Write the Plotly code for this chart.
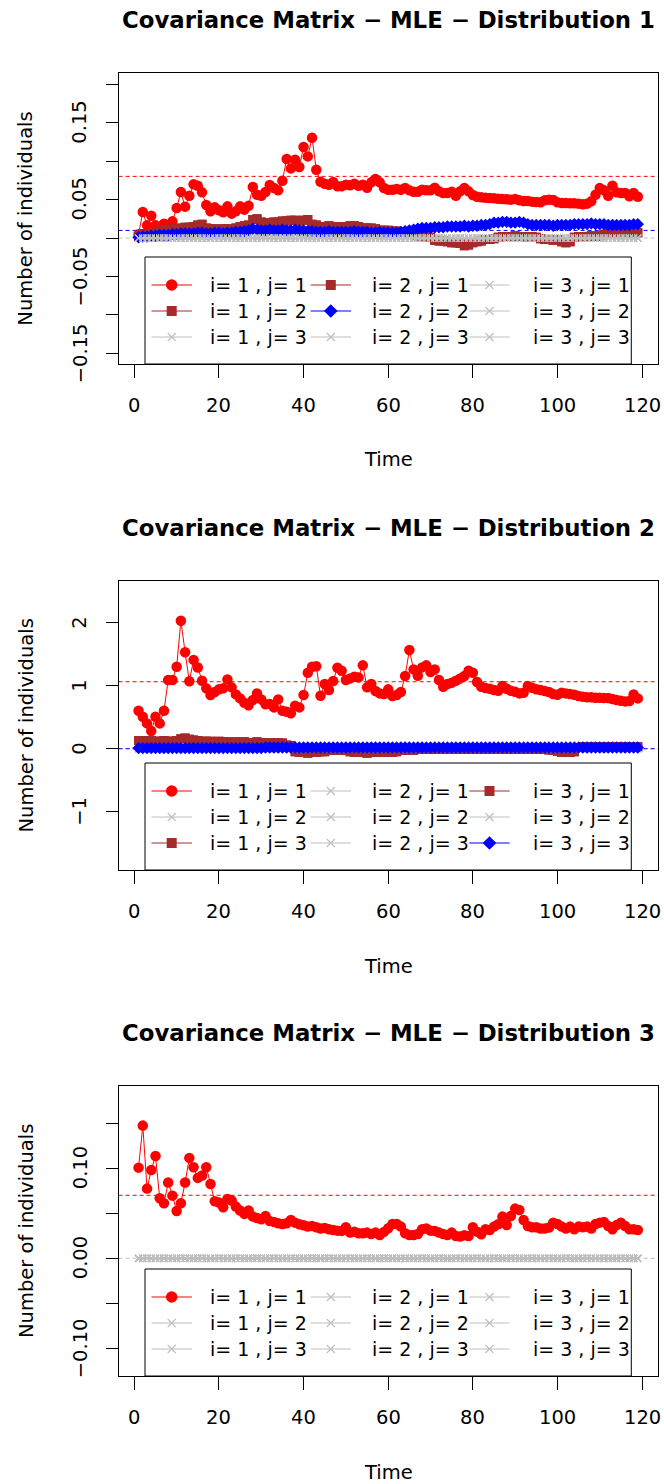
import plotly.graph_objects as go

# ---------------------------------------------------------------- data
time = list(range(1, 120))

# Distribution 1 : covariance estimates over time
d1_s11 = [0.005, 0.0338, 0.0165, 0.029, 0.0165, 0.0117, 0.0186, 0.0165, 0.0217, 0.039,
          0.0598, 0.0408, 0.0551, 0.0698, 0.068, 0.0594, 0.0429, 0.0347, 0.0399, 0.036,
          0.0334, 0.0412, 0.0317, 0.0347, 0.0412, 0.0369, 0.042, 0.0663, 0.0564, 0.0551,
          0.0598, 0.069, 0.065, 0.062, 0.0746, 0.1028, 0.0906, 0.1019, 0.0924, 0.1184,
          0.1062, 0.1305, 0.0889, 0.0733, 0.0707, 0.0694, 0.0729, 0.0672, 0.0672, 0.0694,
          0.0685, 0.0707, 0.068, 0.0694, 0.0655, 0.0724, 0.0768, 0.0724, 0.065, 0.0629,
          0.0629, 0.0637, 0.0629, 0.065, 0.062, 0.0603, 0.0603, 0.0629, 0.062, 0.062,
          0.0655, 0.0607, 0.0585, 0.0585, 0.0603, 0.0551, 0.0607, 0.065, 0.0607, 0.0559,
          0.0538, 0.0529, 0.0525, 0.052, 0.0516, 0.0512, 0.0507, 0.0503, 0.0499, 0.0507,
          0.049, 0.0481, 0.0481, 0.0473, 0.0468, 0.0464, 0.049, 0.0499, 0.0494, 0.0464,
          0.0455, 0.0455, 0.0451, 0.0451, 0.0447, 0.0438, 0.0447, 0.0477, 0.0564, 0.065,
          0.062, 0.0551, 0.068, 0.0594, 0.0585, 0.0585, 0.0542, 0.0585, 0.0538]
d1_s12 = [0.002, 0.006, 0.005, 0.006, 0.007, 0.010, 0.011, 0.011, 0.012, 0.011,
          0.013, 0.014, 0.014, 0.015, 0.017, 0.018, 0.013, 0.012, 0.012, 0.011,
          0.012, 0.012, 0.011, 0.013, 0.015, 0.016, 0.017, 0.024, 0.025, 0.021,
          0.020, 0.020, 0.021, 0.021, 0.022, 0.022, 0.023, 0.023, 0.022, 0.023,
          0.024, 0.018, 0.017, 0.015, 0.015, 0.016, 0.015, 0.015, 0.014, 0.015,
          0.016, 0.016, 0.015, 0.013, 0.013, 0.013, 0.012, 0.010, 0.010, 0.010,
          0.009, 0.009, 0.007, 0.007, 0.006, 0.006, 0.003, 0.002, 0.001, 0.001,
          -0.003, -0.004, -0.004, -0.005, -0.006, -0.006, -0.007, -0.010, -0.009, -0.006,
          -0.005, -0.004, -0.002, -0.002, -0.001, 0.001, 0.002, 0.002, 0.002, 0.003,
          0.002, 0.002, 0.001, 0.002, 0.001, -0.001, -0.002, -0.002, -0.003, -0.002,
          -0.005, -0.006, -0.005, 0.001, 0.002, 0.002, 0.002, 0.003, 0.002, 0.003,
          0.005, 0.006, 0.006, 0.006, 0.006, 0.007, 0.006, 0.006, 0.007]
d1_s22 = [0.001, 0.002, 0.002, 0.003, 0.003, 0.004, 0.004, 0.004, 0.005, 0.005,
          0.006, 0.006, 0.006, 0.006, 0.007, 0.007, 0.006, 0.006, 0.007, 0.007,
          0.006, 0.007, 0.007, 0.008, 0.008, 0.009, 0.010, 0.012, 0.011, 0.010,
          0.010, 0.011, 0.010, 0.010, 0.011, 0.010, 0.010, 0.011, 0.010, 0.010,
          0.009, 0.009, 0.008, 0.008, 0.008, 0.009, 0.008, 0.008, 0.008, 0.008,
          0.008, 0.009, 0.008, 0.008, 0.008, 0.007, 0.007, 0.008, 0.007, 0.007,
          0.007, 0.007, 0.008, 0.009, 0.010, 0.011, 0.012, 0.013, 0.013, 0.013,
          0.014, 0.014, 0.014, 0.015, 0.015, 0.015, 0.015, 0.016, 0.015, 0.016,
          0.016, 0.017, 0.017, 0.018, 0.020, 0.020, 0.021, 0.021, 0.020, 0.020,
          0.021, 0.020, 0.018, 0.017, 0.017, 0.017, 0.017, 0.017, 0.016, 0.017,
          0.017, 0.017, 0.017, 0.018, 0.018, 0.018, 0.018, 0.019, 0.018, 0.018,
          0.018, 0.017, 0.017, 0.017, 0.017, 0.017, 0.017, 0.018, 0.018]

# Distribution 2
d2_s11 = [0.603, 0.508, 0.402, 0.280, 0.508, 0.402, 0.603, 1.09, 1.09, 1.30,
          2.03, 1.53, 1.07, 1.41, 1.29, 1.08, 0.958, 0.852, 0.90, 0.942,
          0.958, 1.10, 0.974, 0.862, 0.799, 0.73, 0.688, 0.772, 0.878, 0.783,
          0.704, 0.709, 0.656, 0.783, 0.603, 0.587, 0.561, 0.683, 0.656, 0.852,
          1.206, 1.30, 1.31, 0.841, 1.026, 0.931, 1.074, 1.286, 1.238, 1.09,
          1.116, 1.143, 1.132, 1.323, 0.974, 1.026, 0.915, 0.878, 0.868, 0.942,
          0.836, 0.852, 0.90, 1.153, 1.566, 1.259, 1.159, 1.291, 1.323, 1.217,
          1.259, 1.09, 0.984, 1.026, 1.048, 1.079, 1.116, 1.153, 1.238, 1.206,
          1.058, 0.984, 0.963, 0.952, 0.931, 0.921, 0.995, 0.952, 0.921, 0.905,
          0.878, 0.889, 0.995, 0.968, 0.942, 0.931, 0.915, 0.90, 0.868, 0.857,
          0.889, 0.878, 0.868, 0.857, 0.836, 0.825, 0.815, 0.815, 0.81, 0.81,
          0.804, 0.804, 0.788, 0.772, 0.762, 0.751, 0.757, 0.862, 0.799]
d2_s13 = [0.13, 0.13, 0.12, 0.13, 0.12, 0.12, 0.13, 0.12, 0.12, 0.13,
          0.16, 0.17, 0.15, 0.14, 0.13, 0.12, 0.12, 0.12, 0.11, 0.12,
          0.11, 0.11, 0.10, 0.11, 0.10, 0.11, 0.10, 0.10, 0.11, 0.10,
          0.09, 0.10, 0.09, 0.10, 0.09, 0.06, 0.05, -0.05, -0.06, -0.06,
          -0.07, -0.06, -0.06, -0.05, -0.05, -0.03, -0.03, -0.02, -0.03, -0.03,
          -0.05, -0.06, -0.06, -0.06, -0.07, -0.06, -0.06, -0.05, -0.06, -0.06,
          -0.06, -0.05, -0.03, -0.03, -0.02, -0.03, -0.01, -0.01, -0.01, -0.01,
          -0.01, -0.01, -0.01, -0.01, -0.01, -0.01, -0.01, -0.01, -0.01, -0.01,
          -0.01, -0.01, -0.01, -0.01, -0.01, -0.01, -0.01, -0.01, -0.01, -0.01,
          -0.01, -0.01, -0.01, -0.01, -0.01, -0.01, -0.01, -0.02, -0.03, -0.04,
          -0.06, -0.06, -0.06, -0.05, 0.02, 0.03, 0.03, 0.03, 0.03, 0.03,
          0.03, 0.03, 0.03, 0.03, 0.03, 0.03, 0.03, 0.03, 0.03]
d2_s33 = [0.01, 0.01, 0.01, 0.01, 0.01, 0.01, 0.01, 0.01, 0.01, 0.01,
          0.01, 0.01, 0.01, 0.01, 0.01, 0.01, 0.01, 0.01, 0.01, 0.01,
          0.01, 0.01, 0.01, 0.01, 0.01, 0.01, 0.01, 0.01, 0.01, 0.01,
          0.02, 0.02, 0.02, 0.02, 0.02, 0.02, 0.02, 0.02, 0.02, 0.02,
          0.02, 0.02, 0.02, 0.02, 0.02, 0.02, 0.02, 0.02, 0.02, 0.02,
          0.02, 0.02, 0.02, 0.02, 0.02, 0.02, 0.02, 0.02, 0.02, 0.02,
          0.02, 0.02, 0.02, 0.02, 0.02, 0.02, 0.02, 0.02, 0.02, 0.02,
          0.02, 0.02, 0.02, 0.02, 0.02, 0.02, 0.02, 0.02, 0.02, 0.02,
          0.02, 0.02, 0.02, 0.02, 0.02, 0.02, 0.02, 0.02, 0.02, 0.02,
          0.02, 0.02, 0.02, 0.02, 0.02, 0.02, 0.02, 0.02, 0.02, 0.02,
          0.02, 0.02, 0.02, 0.02, 0.02, 0.02, 0.02, 0.02, 0.02, 0.02,
          0.02, 0.02, 0.02, 0.02, 0.02, 0.02, 0.02, 0.02, 0.02]

# Distribution 3
d3_s11 = [0.1007, 0.1474, 0.0774, 0.0981, 0.1137, 0.0667, 0.0611, 0.0841, 0.0696, 0.0526,
          0.0611, 0.0841, 0.1115, 0.1011, 0.0893, 0.0919, 0.1011, 0.0826, 0.0633, 0.0619,
          0.0567, 0.0659, 0.0641, 0.0574, 0.053, 0.0493, 0.053, 0.0463, 0.0448, 0.0433,
          0.047, 0.0415, 0.0404, 0.0389, 0.0381, 0.0389, 0.0426, 0.0396, 0.0378, 0.0367,
          0.0352, 0.0359, 0.0344, 0.033, 0.0337, 0.0322, 0.0315, 0.0307, 0.0304, 0.0344,
          0.0285, 0.0296, 0.0278, 0.0278, 0.0285, 0.027, 0.0285, 0.0259, 0.0293, 0.0333,
          0.0381, 0.0381, 0.0352, 0.0278, 0.0259, 0.0259, 0.027, 0.0322, 0.033, 0.0307,
          0.0304, 0.0285, 0.027, 0.0259, 0.0285, 0.0248, 0.0241, 0.0256, 0.0248, 0.0344,
          0.0296, 0.0267, 0.0322, 0.0315, 0.0352, 0.0378, 0.0463, 0.037, 0.047, 0.0552,
          0.0537, 0.0426, 0.0359, 0.0344, 0.0344, 0.033, 0.033, 0.0341, 0.0396, 0.0381,
          0.0352, 0.033, 0.0352, 0.0322, 0.0352, 0.0344, 0.0352, 0.033, 0.0381, 0.0396,
          0.0404, 0.0359, 0.0322, 0.037, 0.0396, 0.0359, 0.0322, 0.0322, 0.0315]

# entries estimated as zero
s_zero = [0.0, 0.0, 0.0, 0.0, 0.0, 0.0, 0.0, 0.0, 0.0, 0.0, 0.0, 0.0, 0.0, 0.0, 0.0, 0.0, 0.0,
          0.0, 0.0, 0.0, 0.0, 0.0, 0.0, 0.0, 0.0, 0.0, 0.0, 0.0, 0.0, 0.0, 0.0, 0.0, 0.0, 0.0,
          0.0, 0.0, 0.0, 0.0, 0.0, 0.0, 0.0, 0.0, 0.0, 0.0, 0.0, 0.0, 0.0, 0.0, 0.0, 0.0, 0.0,
          0.0, 0.0, 0.0, 0.0, 0.0, 0.0, 0.0, 0.0, 0.0, 0.0, 0.0, 0.0, 0.0, 0.0, 0.0, 0.0, 0.0,
          0.0, 0.0, 0.0, 0.0, 0.0, 0.0, 0.0, 0.0, 0.0, 0.0, 0.0, 0.0, 0.0, 0.0, 0.0, 0.0, 0.0,
          0.0, 0.0, 0.0, 0.0, 0.0, 0.0, 0.0, 0.0, 0.0, 0.0, 0.0, 0.0, 0.0, 0.0, 0.0, 0.0, 0.0,
          0.0, 0.0, 0.0, 0.0, 0.0, 0.0, 0.0, 0.0, 0.0, 0.0, 0.0, 0.0, 0.0, 0.0, 0.0, 0.0, 0.0]

# reference (true) values drawn as dashed horizontal lines
d1_ref = [("red", 0.0802), ("grey", 0.0), ("blue", 0.0099)]
d2_ref = [("red", 1.063), ("grey", 0.0), ("blue", 0.0)]
d3_ref = [("red", 0.070), ("grey", 0.0)]

x_ticks = [0, 20, 40, 60, 80, 100, 120]
d1_yticks = [-0.15, -0.10, -0.05, 0.0, 0.05, 0.10, 0.15, 0.20]
d1_ylabels = ["−0.15", "", "−0.05", "", "0.05", "", "0.15", ""]
d2_yticks = [-1, 0, 1, 2]
d2_ylabels = ["−1", "0", "1", "2"]
d3_yticks = [-0.10, -0.05, 0.0, 0.05, 0.10, 0.15]
d3_ylabels = ["−0.10", "", "0.00", "", "0.10", ""]

titles = ["Covariance Matrix − MLE − Distribution 1",
          "Covariance Matrix − MLE − Distribution 2",
          "Covariance Matrix − MLE − Distribution 3"]

# (i, j) -> (values, style), drawn in loop order i then j
d1_series = {(1, 1): (d1_s11, "red"), (1, 2): (d1_s12, "brown"), (1, 3): (s_zero, "grey"),
             (2, 1): (d1_s12, "brown"), (2, 2): (d1_s22, "blue"), (2, 3): (s_zero, "grey"),
             (3, 1): (s_zero, "grey"), (3, 2): (s_zero, "grey"), (3, 3): (s_zero, "grey")}
d2_series = {(1, 1): (d2_s11, "red"), (1, 2): (s_zero, "grey"), (1, 3): (d2_s13, "brown"),
             (2, 1): (s_zero, "grey"), (2, 2): (s_zero, "grey"), (2, 3): (s_zero, "grey"),
             (3, 1): (d2_s13, "brown"), (3, 2): (s_zero, "grey"), (3, 3): (d2_s33, "blue")}
d3_series = {(1, 1): (d3_s11, "red"), (1, 2): (s_zero, "grey"), (1, 3): (s_zero, "grey"),
             (2, 1): (s_zero, "grey"), (2, 2): (s_zero, "grey"), (2, 3): (s_zero, "grey"),
             (3, 1): (s_zero, "grey"), (3, 2): (s_zero, "grey"), (3, 3): (s_zero, "grey")}

# ---------------------------------------------------------------- styling / layout
W, H = 664, 1484
FONT = "DejaVu Sans"
TICK_SIZE = 19.5
LEG_SIZE = 19
TITLE_SIZE = 22.8

STYLE = {
    "red": dict(color="red", symbol="circle", size=10.5, lw=0),
    "brown": dict(color="#A52A2A", symbol="square", size=9, lw=0),
    "blue": dict(color="blue", symbol="diamond", size=9.5, lw=0),
    "grey": dict(color="#BEBEBE", symbol="x-thin", size=7, lw=1.1),
}

X_RANGE = [-3.72, 123.72]
PLOT_L, PLOT_R = 118.6, 657.8   # pixel edges of the plotting box

panels = [
    dict(top=73.3, bottom=364.0, yr=[-0.1639, 0.2143], series=d1_series, ref=d1_ref,
         yticks=d1_yticks, ylabels=d1_ylabels),
    dict(top=581.0, bottom=870.0, yr=[-1.925, 2.662], series=d2_series, ref=d2_ref,
         yticks=d2_yticks, ylabels=d2_ylabels),
    dict(top=1086.0, bottom=1376.0, yr=[-0.1308, 0.1914], series=d3_series, ref=d3_ref,
         yticks=d3_yticks, ylabels=d3_ylabels),
]


def py(p):
    return 1 - p / H


def px(p):
    return p / W


fig = go.Figure()
annotations = []
shapes = []
layout_axes = {}

for k, pan in enumerate(panels, start=1):
    xa = "x" if k == 1 else f"x{k}"
    ya = "y" if k == 1 else f"y{k}"
    xkey = "xaxis" if k == 1 else f"xaxis{k}"
    ykey = "yaxis" if k == 1 else f"yaxis{k}"
    T, B = pan["top"], pan["bottom"]

    layout_axes[xkey] = dict(domain=[px(PLOT_L), px(PLOT_R)], range=X_RANGE, anchor=ya,
                             tickvals=x_ticks, showticklabels=False, ticks="outside",
                             ticklen=13, tickwidth=1, tickcolor="black", showline=True,
                             mirror=True, linecolor="black", linewidth=1, showgrid=False,
                             zeroline=False, fixedrange=True)
    layout_axes[ykey] = dict(domain=[py(B), py(T)], range=pan["yr"], anchor=xa,
                             tickvals=pan["yticks"], showticklabels=False, ticks="outside",
                             ticklen=12, tickwidth=1, tickcolor="black", showline=True,
                             mirror=True, linecolor="black", linewidth=1, showgrid=False,
                             zeroline=False, fixedrange=True)

    # dashed reference lines
    for col, val in pan["ref"]:
        shapes.append(dict(type="line", xref=f"{xa} domain", x0=0, x1=1, yref=ya,
                           y0=val, y1=val, layer="below",
                           line=dict(color=STYLE[col]["color"], width=1, dash="4px,3px")))

    # series
    for i in (1, 2, 3):
        for j in (1, 2, 3):
            vals, st = pan["series"][(i, j)]
            s = STYLE[st]
            fig.add_trace(go.Scatter(
                x=time, y=vals, xaxis=xa, yaxis=ya, mode="lines+markers",
                line=dict(color=s["color"], width=1),
                marker=dict(symbol=s["symbol"], size=s["size"], color=s["color"],
                            line=dict(color=s["color"], width=s["lw"])),
                hoverinfo="skip", showlegend=False))

    # title and axis labels
    annotations.append(dict(text=f"<b>{titles[k-1]}</b>", xref="paper", yref="paper",
                            x=px((PLOT_L + PLOT_R) / 2), y=py(T - 53), xanchor="center",
                            yanchor="middle", showarrow=False,
                            font=dict(family=FONT, size=TITLE_SIZE, color="black")))
    annotations.append(dict(text="Time", xref="paper", yref="paper",
                            x=px((PLOT_L + PLOT_R) / 2), y=py(B + 96), xanchor="center",
                            yanchor="middle", showarrow=False,
                            font=dict(family=FONT, size=TICK_SIZE, color="black")))
    annotations.append(dict(text="Number of individuals", xref="paper", yref="paper",
                            x=px(26), y=py((T + B) / 2), xanchor="center", yanchor="middle",
                            textangle=-90, showarrow=False,
                            font=dict(family=FONT, size=TICK_SIZE, color="black")))
    for v in x_ticks:
        annotations.append(dict(text=str(v), xref=xa, yref="paper", x=v, y=py(B + 41),
                                xanchor="center", yanchor="middle", showarrow=False,
                                font=dict(family=FONT, size=TICK_SIZE, color="black")))
    for v, lab in zip(pan["yticks"], pan["ylabels"]):
        if lab:
            annotations.append(dict(text=lab, xref="paper", yref=ya, x=px(80), y=v,
                                    xanchor="center", yanchor="middle", textangle=-90,
                                    showarrow=False,
                                    font=dict(family=FONT, size=TICK_SIZE, color="black")))

# ---------------------------------------------------------------- legends
# an overlay axis pair in pixel units holds the legend boxes and their keys
LEG_L, LEG_R, LEG_H = 145.0, 631.3, 107.0
COL_CX = [171.7, 330.8, 489.5]
COL_TX = [208.0, 370.0, 531.0]
ROW_DY = [79.0, 53.0, 27.0]
KEY_HALF = 20.2

layout_axes["xaxis4"] = dict(domain=[0, 1], range=[0, W], visible=False, anchor="y4",
                             fixedrange=True)
layout_axes["yaxis4"] = dict(domain=[0, 1], range=[H, 0], visible=False, anchor="x4",
                             fixedrange=True)

for pan in panels:
    B = pan["bottom"]
    fig.add_trace(go.Scatter(x=[LEG_L, LEG_R, LEG_R, LEG_L, LEG_L],
                             y=[B - LEG_H, B - LEG_H, B, B, B - LEG_H],
                             xaxis="x4", yaxis="y4", mode="lines", fill="toself",
                             fillcolor="white", line=dict(color="black", width=1),
                             hoverinfo="skip", showlegend=False))
    for i in (1, 2, 3):
        for j in (1, 2, 3):
            _, st = pan["series"][(i, j)]
            s = STYLE[st]
            cx = COL_CX[i - 1]
            ry = B - ROW_DY[j - 1]
            fig.add_trace(go.Scatter(x=[cx - KEY_HALF, cx + KEY_HALF], y=[ry, ry],
                                     xaxis="x4", yaxis="y4", mode="lines",
                                     line=dict(color=s["color"], width=1),
                                     hoverinfo="skip", showlegend=False))
            fig.add_trace(go.Scatter(x=[cx], y=[ry], xaxis="x4", yaxis="y4", mode="markers",
                                     marker=dict(symbol=s["symbol"], size=s["size"] + 1,
                                                 color=s["color"],
                                                 line=dict(color=s["color"], width=s["lw"])),
                                     hoverinfo="skip", showlegend=False))
            annotations.append(dict(text=f"i= {i} , j= {j}", xref="paper", yref="paper",
                                    x=px(COL_TX[i - 1]), y=py(ry), xanchor="left",
                                    yanchor="middle", showarrow=False,
                                    font=dict(family=FONT, size=LEG_SIZE, color="black")))

fig.update_layout(width=W, height=H, margin=dict(l=0, r=0, t=0, b=0),
                  paper_bgcolor="white", plot_bgcolor="rgba(0,0,0,0)", showlegend=False,
                  annotations=annotations, shapes=shapes, **layout_axes)

fig.write_html("out.html")
